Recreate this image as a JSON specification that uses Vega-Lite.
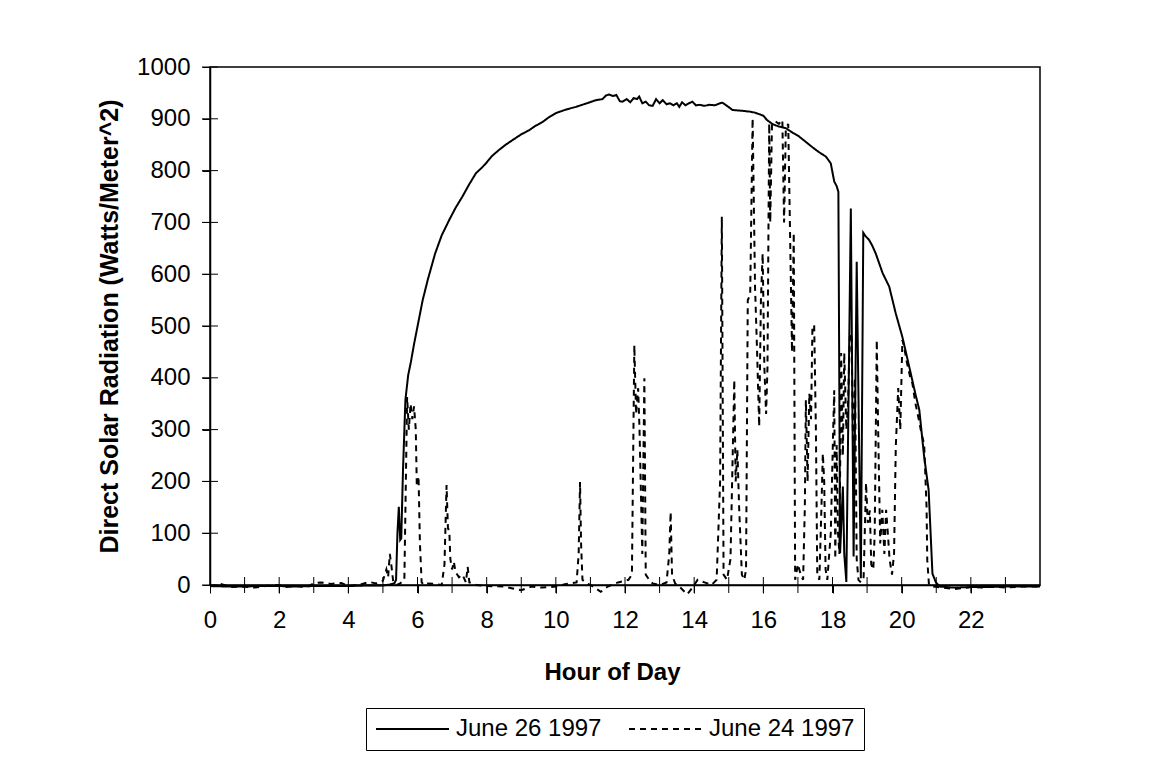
{
  "$schema": "https://vega.github.io/schema/vega-lite/v6.json",
  "width": 830,
  "height": 518,
  "autosize": {"type": "none"},
  "padding": {"left": 210, "top": 67, "right": 111, "bottom": 182},
  "background": "white",
  "config": {
    "font": "Liberation Sans",
    "view": {"stroke": "black", "strokeWidth": 1.5},
    "axis": {
      "grid": false,
      "domainColor": "black",
      "domainWidth": 1.5,
      "tickColor": "black",
      "tickWidth": 1,
      "labelColor": "black",
      "titleColor": "black",
      "labelFont": "Liberation Sans",
      "titleFont": "Liberation Sans",
      "labelFontSize": 24,
      "titleFontSize": 24,
      "titleFontWeight": "bold"
    }
  },
  "datasets": {
    "june26": [
      {"h":0,"v":-2},{"h":0.5,"v":-3},{"h":1,"v":-3},{"h":1.5,"v":-2},{"h":2,"v":-2},{"h":2.5,"v":-3},{"h":3,"v":-2},{"h":3.5,"v":-2},{"h":4,"v":-2},{"h":4.5,"v":-1},{"h":5,"v":-1},{"h":5.2,"v":1},{"h":5.33,"v":3},{"h":5.38,"v":10},{"h":5.42,"v":100},{"h":5.46,"v":151},{"h":5.5,"v":87},{"h":5.53,"v":90},{"h":5.58,"v":220},{"h":5.65,"v":357},{"h":5.73,"v":405},{"h":5.81,"v":431},{"h":5.9,"v":465},{"h":6.0,"v":499},{"h":6.15,"v":550},{"h":6.3,"v":590},{"h":6.51,"v":640},{"h":6.7,"v":675},{"h":6.92,"v":705},{"h":7.1,"v":728},{"h":7.3,"v":750},{"h":7.5,"v":774},{"h":7.69,"v":795},{"h":7.85,"v":805},{"h":7.98,"v":814},{"h":8.15,"v":828},{"h":8.36,"v":840},{"h":8.55,"v":850},{"h":8.75,"v":859},{"h":9.0,"v":870},{"h":9.23,"v":878},{"h":9.4,"v":886},{"h":9.62,"v":894},{"h":9.8,"v":903},{"h":10.0,"v":911},{"h":10.3,"v":918},{"h":10.58,"v":923},{"h":10.9,"v":930},{"h":11.16,"v":936},{"h":11.35,"v":938},{"h":11.45,"v":945},{"h":11.54,"v":947},{"h":11.65,"v":944},{"h":11.75,"v":946},{"h":11.85,"v":934},{"h":11.93,"v":933},{"h":12.05,"v":938},{"h":12.15,"v":932},{"h":12.25,"v":940},{"h":12.35,"v":938},{"h":12.41,"v":943},{"h":12.5,"v":930},{"h":12.6,"v":933},{"h":12.7,"v":926},{"h":12.8,"v":925},{"h":12.9,"v":938},{"h":13.0,"v":930},{"h":13.09,"v":936},{"h":13.2,"v":928},{"h":13.3,"v":930},{"h":13.4,"v":926},{"h":13.5,"v":930},{"h":13.57,"v":923},{"h":13.65,"v":932},{"h":13.75,"v":926},{"h":13.85,"v":930},{"h":13.95,"v":933},{"h":14.05,"v":926},{"h":14.15,"v":927},{"h":14.3,"v":925},{"h":14.43,"v":927},{"h":14.6,"v":926},{"h":14.75,"v":930},{"h":14.82,"v":931},{"h":14.95,"v":925},{"h":15.11,"v":917},{"h":15.3,"v":916},{"h":15.45,"v":915},{"h":15.59,"v":914},{"h":15.75,"v":912},{"h":15.88,"v":909},{"h":16.0,"v":906},{"h":16.1,"v":898},{"h":16.26,"v":890},{"h":16.45,"v":885},{"h":16.65,"v":882},{"h":16.85,"v":873},{"h":17.03,"v":866},{"h":17.2,"v":857},{"h":17.42,"v":845},{"h":17.6,"v":836},{"h":17.81,"v":827},{"h":17.95,"v":814},{"h":18.05,"v":779},{"h":18.12,"v":770},{"h":18.17,"v":759},{"h":18.22,"v":62},{"h":18.3,"v":190},{"h":18.34,"v":60},{"h":18.4,"v":6},{"h":18.53,"v":727},{"h":18.61,"v":55},{"h":18.7,"v":624},{"h":18.82,"v":13},{"h":18.89,"v":680},{"h":18.95,"v":674},{"h":19.06,"v":666},{"h":19.15,"v":655},{"h":19.25,"v":640},{"h":19.45,"v":602},{"h":19.64,"v":576},{"h":19.83,"v":524},{"h":20.02,"v":479},{"h":20.22,"v":421},{"h":20.4,"v":368},{"h":20.51,"v":338},{"h":20.65,"v":248},{"h":20.78,"v":183},{"h":20.89,"v":22},{"h":20.99,"v":5},{"h":21.1,"v":-3},{"h":21.5,"v":-5},{"h":22,"v":-4},{"h":22.5,"v":-4},{"h":23,"v":-3},{"h":24,"v":-3}
    ],
    "june24": [
      {"h":0,"v":-3},{"h":0.3,"v":2},{"h":0.6,"v":-4},{"h":1.0,"v":-3},{"h":1.3,"v":-5},{"h":1.6,"v":-2},{"h":2.0,"v":0},{"h":2.2,"v":-4},{"h":2.5,"v":-2},{"h":2.8,"v":-4},{"h":3.0,"v":3},{"h":3.2,"v":5},{"h":3.5,"v":2},{"h":3.8,"v":4},{"h":4.0,"v":-2},{"h":4.3,"v":0},{"h":4.6,"v":6},{"h":4.8,"v":3},{"h":5.0,"v":8},{"h":5.1,"v":30},{"h":5.15,"v":15},{"h":5.2,"v":60},{"h":5.25,"v":35},{"h":5.3,"v":5},{"h":5.4,"v":0},{"h":5.5,"v":3},{"h":5.62,"v":10},{"h":5.7,"v":363},{"h":5.75,"v":300},{"h":5.8,"v":350},{"h":5.85,"v":320},{"h":5.9,"v":345},{"h":5.95,"v":300},{"h":5.98,"v":190},{"h":6.03,"v":210},{"h":6.07,"v":80},{"h":6.12,"v":5},{"h":6.2,"v":0},{"h":6.3,"v":3},{"h":6.5,"v":2},{"h":6.7,"v":0},{"h":6.78,"v":40},{"h":6.84,"v":193},{"h":6.88,"v":110},{"h":6.92,"v":104},{"h":6.95,"v":50},{"h":7.0,"v":30},{"h":7.05,"v":45},{"h":7.1,"v":25},{"h":7.2,"v":15},{"h":7.3,"v":20},{"h":7.4,"v":5},{"h":7.45,"v":35},{"h":7.5,"v":5},{"h":7.7,"v":0},{"h":8.0,"v":-2},{"h":8.5,"v":-3},{"h":9.0,"v":-10},{"h":9.3,"v":-3},{"h":9.6,"v":-5},{"h":10.0,"v":-3},{"h":10.3,"v":2},{"h":10.6,"v":5},{"h":10.66,"v":60},{"h":10.7,"v":199},{"h":10.73,"v":80},{"h":10.77,"v":10},{"h":10.9,"v":3},{"h":11.0,"v":0},{"h":11.3,"v":-13},{"h":11.5,"v":-3},{"h":11.8,"v":5},{"h":12.1,"v":10},{"h":12.2,"v":20},{"h":12.27,"v":463},{"h":12.32,"v":330},{"h":12.38,"v":380},{"h":12.42,"v":300},{"h":12.47,"v":150},{"h":12.5,"v":60},{"h":12.56,"v":399},{"h":12.6,"v":20},{"h":12.7,"v":10},{"h":12.8,"v":3},{"h":13.0,"v":0},{"h":13.2,"v":5},{"h":13.28,"v":60},{"h":13.32,"v":141},{"h":13.36,"v":20},{"h":13.45,"v":3},{"h":13.6,"v":-5},{"h":13.8,"v":-18},{"h":13.95,"v":-5},{"h":14.1,"v":10},{"h":14.3,"v":5},{"h":14.5,"v":0},{"h":14.65,"v":10},{"h":14.75,"v":200},{"h":14.8,"v":711},{"h":14.85,"v":20},{"h":14.95,"v":10},{"h":15.05,"v":50},{"h":15.16,"v":396},{"h":15.2,"v":200},{"h":15.25,"v":261},{"h":15.3,"v":150},{"h":15.38,"v":20},{"h":15.45,"v":10},{"h":15.5,"v":30},{"h":15.55,"v":550},{"h":15.62,"v":560},{"h":15.69,"v":901},{"h":15.76,"v":576},{"h":15.82,"v":450},{"h":15.88,"v":306},{"h":15.93,"v":550},{"h":15.98,"v":640},{"h":16.03,"v":420},{"h":16.08,"v":330},{"h":16.12,"v":421},{"h":16.17,"v":891},{"h":16.2,"v":700},{"h":16.25,"v":890},{"h":16.35,"v":895},{"h":16.45,"v":890},{"h":16.55,"v":898},{"h":16.6,"v":700},{"h":16.65,"v":880},{"h":16.72,"v":890},{"h":16.78,"v":650},{"h":16.83,"v":450},{"h":16.88,"v":680},{"h":16.92,"v":10},{"h":17.0,"v":40},{"h":17.08,"v":20},{"h":17.15,"v":10},{"h":17.2,"v":150},{"h":17.23,"v":357},{"h":17.28,"v":200},{"h":17.33,"v":370},{"h":17.38,"v":320},{"h":17.42,"v":499},{"h":17.47,"v":502},{"h":17.52,"v":300},{"h":17.56,"v":20},{"h":17.62,"v":10},{"h":17.68,"v":150},{"h":17.72,"v":254},{"h":17.76,"v":200},{"h":17.8,"v":30},{"h":17.85,"v":10},{"h":17.95,"v":100},{"h":18.02,"v":300},{"h":18.05,"v":376},{"h":18.08,"v":50},{"h":18.12,"v":270},{"h":18.16,"v":100},{"h":18.2,"v":60},{"h":18.25,"v":448},{"h":18.3,"v":250},{"h":18.34,"v":448},{"h":18.4,"v":300},{"h":18.45,"v":350},{"h":18.5,"v":480},{"h":18.55,"v":486},{"h":18.6,"v":240},{"h":18.65,"v":400},{"h":18.7,"v":50},{"h":18.75,"v":10},{"h":18.82,"v":5},{"h":18.9,"v":15},{"h":18.97,"v":197},{"h":19.02,"v":120},{"h":19.08,"v":144},{"h":19.12,"v":40},{"h":19.18,"v":30},{"h":19.22,"v":100},{"h":19.28,"v":473},{"h":19.32,"v":300},{"h":19.38,"v":80},{"h":19.44,"v":145},{"h":19.5,"v":60},{"h":19.55,"v":145},{"h":19.6,"v":100},{"h":19.65,"v":50},{"h":19.72,"v":20},{"h":19.78,"v":60},{"h":19.83,"v":267},{"h":19.9,"v":380},{"h":19.96,"v":300},{"h":20.02,"v":473},{"h":20.07,"v":460},{"h":20.15,"v":430},{"h":20.25,"v":400},{"h":20.31,"v":389},{"h":20.4,"v":350},{"h":20.5,"v":318},{"h":20.58,"v":290},{"h":20.65,"v":273},{"h":20.72,"v":150},{"h":20.74,"v":48},{"h":20.79,"v":0},{"h":20.9,"v":-3},{"h":21.2,"v":-5},{"h":21.5,"v":-8},{"h":22.0,"v":-4},{"h":22.3,"v":-5},{"h":22.7,"v":-3},{"h":23.0,"v":-5},{"h":23.5,"v":-3},{"h":24,"v":-3}
    ],
    "xt": [{"h":1},{"h":2},{"h":3},{"h":4},{"h":5},{"h":6},{"h":7},{"h":8},{"h":9},{"h":10},{"h":11},{"h":12},{"h":13},{"h":14},{"h":15},{"h":16},{"h":17},{"h":18},{"h":19},{"h":20},{"h":21},{"h":22},{"h":23}],
    "yt": [{"v":0},{"v":100},{"v":200},{"v":300},{"v":400},{"v":500},{"v":600},{"v":700},{"v":800},{"v":900},{"v":1000}]
  },
  "layer": [
    {
      "data": {"name": "june24"},
      "mark": {"type": "line", "color": "black", "strokeWidth": 2, "interpolate": "linear"},
      "encoding": {
        "x": {
          "field": "h", "type": "quantitative",
          "scale": {"domain": [0, 24], "nice": false, "zero": false},
          "axis": {
            "title": "Hour of Day",
            "titleX": 402,
            "values": [0,1,2,3,4,5,6,7,8,9,10,11,12,13,14,15,16,17,18,19,20,21,22,23],
            "labelExpr": "datum.value % 2 === 0 ? datum.label : ''",
            "labelOverlap": false,
            "labelFlush": false,
            "tickSize": 8,
            "labelPadding": 15,
            "titlePadding": 28
          }
        },
        "y": {
          "field": "v", "type": "quantitative",
          "scale": {"domain": [0, 1000], "nice": false, "zero": false},
          "axis": {
            "title": "Direct Solar Radiation (Watts/Meter^2)",
            "titleFontSize": 25,
            "format": "d",
            "values": [0,100,200,300,400,500,600,700,800,900,1000],
            "labelOverlap": false,
            "labelFlush": false,
            "tickSize": 8,
            "labelPadding": 12,
            "titlePadding": 14
          }
        },
        "strokeDash": {
          "datum": "June 24 1997",
          "scale": {"domain": ["June 26 1997", "June 24 1997"], "range": [[1, 0], [6, 5]]},
          "legend": {
            "title": null,
            "orient": "none",
            "direction": "horizontal",
            "legendX": 156,
            "legendY": 641,
            "strokeColor": "black",
            "fillColor": "white",
            "padding": 9,
            "symbolType": "stroke",
            "symbolSize": 5329,
            "clipHeight": 24,
            "symbolStrokeWidth": 2,
            "symbolStrokeColor": "black",
            "labelFontSize": 24,
            "labelFont": "Liberation Sans",
            "labelColor": "black",
            "labelOffset": 6,
            "columnPadding": 26
          }
        }
      }
    },
    {
      "data": {"name": "june26"},
      "mark": {"type": "line", "color": "black", "strokeWidth": 2, "interpolate": "linear"},
      "encoding": {
        "x": {"field": "h", "type": "quantitative"},
        "y": {"field": "v", "type": "quantitative"},
        "strokeDash": {"datum": "June 26 1997"}
      }
    },
    {
      "data": {"name": "xt"},
      "mark": {"type": "tick", "orient": "vertical", "size": 16, "thickness": 1, "color": "black", "opacity": 1},
      "encoding": {
        "x": {"field": "h", "type": "quantitative"},
        "y": {"datum": 0}
      }
    },
    {
      "data": {"name": "yt"},
      "mark": {"type": "tick", "orient": "horizontal", "size": 16, "thickness": 1, "color": "black", "opacity": 1},
      "encoding": {
        "y": {"field": "v", "type": "quantitative"},
        "x": {"datum": 0}
      }
    }
  ]
}
